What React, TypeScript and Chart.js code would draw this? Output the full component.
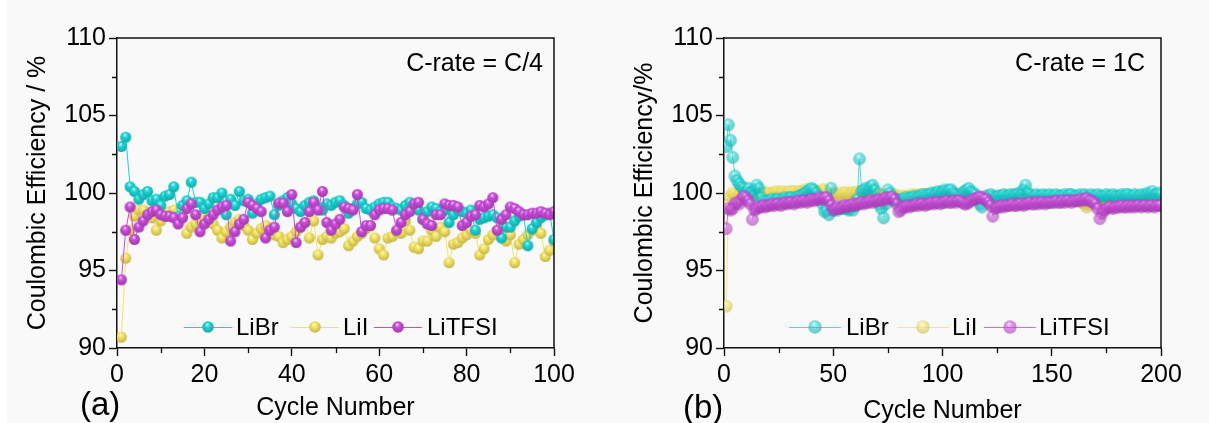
import React, { useEffect, useRef } from "react";
import { Chart, registerables } from "chart.js";

Chart.register(...registerables);

const FONT = "'Liberation Sans', Arial, Helvetica, sans-serif";

const seriesNames = ["LiBr", "LiI", "LiTFSI"];
const seriesColors = ["#19d3d3", "#f4e25e", "#c94ada"];
const drawOrder = [1, 2, 0];

const yMin = 90;
const yMax = 110;
const yMajor = 5;

// ---------- Panel (a): C-rate = C/4, cycles 1..100 ----------
const libr_a = [
  103.0, 103.6, 100.4, 100.1, 99.6, 99.9, 100.1, 99.5, 99.6, 99.2,
  99.8, 99.9, 100.4, 98.5, 99.2, 99.5, 100.7, 99.4, 99.4, 99.0,
  99.3, 99.7, 99.7, 100.0, 98.6, 99.6, 99.2, 100.1, 99.5, 99.6,
  98.7, 99.3, 99.6, 99.7, 99.8, 98.6, 99.2, 99.5, 99.7, 99.3,
  99.0, 98.8, 99.2, 99.4, 99.5, 99.1, 98.9, 99.3, 99.2, 99.4,
  99.5, 99.2, 98.7, 99.0, 99.3, 99.4, 99.0, 98.9, 99.1, 99.3,
  99.4, 99.4, 99.1, 99.0, 98.9, 99.2, 99.4, 99.2, 98.9, 98.3,
  98.8, 99.1, 99.0, 98.8, 98.9, 98.1, 98.6, 98.9, 98.8, 98.7,
  98.9, 97.6, 98.3, 98.4, 98.5, 98.6, 98.4, 97.1, 97.8, 97.8,
  98.2, 98.5, 98.6, 96.6, 97.7, 98.1, 98.4, 98.6, 98.7, 97.0,
];
const lii_a = [
  90.7, 95.8, 97.6, 98.5, 98.9, 98.9, 98.6, 98.4, 97.6, 98.2,
  98.5, 98.8, 98.9, 98.7, 98.5, 97.4, 97.8, 98.0, 98.2, 98.4,
  98.5, 98.0, 97.6, 97.1, 97.5, 97.8, 98.1, 98.3, 97.9, 97.6,
  97.0, 97.4, 97.7, 97.9, 97.6, 97.3, 97.2, 96.8, 97.0, 97.2,
  97.5, 97.8, 98.1, 97.1, 98.2, 96.0, 97.0, 97.2, 97.1, 97.4,
  97.5, 97.7, 96.6, 96.9, 97.2, 97.4, 97.7, 97.9, 97.1, 96.4,
  96.0, 97.1, 97.2, 97.5, 97.4, 98.2, 97.6, 96.5, 96.4, 96.9,
  96.9, 97.6, 97.2, 97.8, 97.5, 95.5, 96.7, 96.8, 97.1, 97.3,
  97.6, 97.4, 96.0, 96.4, 97.0, 97.3, 97.6, 97.8, 96.9, 97.3,
  95.5, 96.7, 97.0, 97.3, 97.6, 97.8, 97.4, 95.9, 96.3, 96.9,
];
const litfsi_a = [
  94.4, 97.6, 99.1, 97.0, 97.8, 98.2, 98.6, 98.8, 98.9, 98.6,
  98.5, 98.5, 98.4, 98.0, 98.4, 99.0, 99.3, 98.6, 97.5, 98.0,
  98.3, 98.6, 98.9, 99.1, 99.2, 96.9, 97.5, 98.0, 98.3, 99.4,
  99.2, 99.0, 98.8, 97.1, 97.6, 97.8, 99.35, 99.35, 98.8, 99.9,
  96.8, 97.8, 98.1, 98.8, 99.4, 98.9, 100.1, 98.1, 97.6, 98.0,
  98.3, 99.1, 99.0, 98.9, 99.9, 97.5, 97.9, 97.9, 98.6, 98.9,
  99.0, 99.0, 98.9, 97.6, 98.1, 98.6, 98.8, 99.3, 99.4, 98.3,
  98.0, 97.9, 98.6, 98.6, 99.3, 99.2, 99.2, 99.1, 97.9, 98.1,
  98.5, 98.6, 99.2, 99.1, 99.3, 99.7, 97.6, 98.3, 98.6, 99.1,
  99.0, 98.8, 98.6, 98.6, 98.7, 98.7, 98.8, 98.7, 98.6, 98.8,
];

// ---------- Panel (b): C-rate = 1C, cycles 1..200 ----------
const libr_b = [
  103.0, 104.4, 103.4, 102.3, 101.1, 100.8, 100.6, 100.4, 100.3, 100.1,
  100.3, 100.0, 99.8, 100.2, 100.5, 100.3, 99.7, 99.5, 99.4, 99.5,
  99.5, 99.6, 99.5, 99.6, 99.6, 99.5, 99.6, 99.7, 99.6, 99.7,
  99.7, 99.6, 99.7, 99.8, 99.8, 99.9, 100.0, 100.1, 100.2, 100.3,
  100.2, 100.0, 99.8, 99.6, 99.3, 98.8, 98.9, 98.6, 100.3, 98.9,
  99.0, 98.9, 99.0, 99.1, 99.0, 99.0, 98.9, 99.1, 98.9, 99.2,
  99.6, 102.2, 100.1, 100.2, 100.3, 100.2, 100.4, 100.5, 100.2, 99.6,
  99.3, 99.0, 98.4, 99.3, 100.2, 100.0, 99.6, 99.5, 99.6, 99.5,
  99.6, 99.6, 99.7, 99.6, 99.7, 99.7, 99.8, 99.7, 99.8, 99.8,
  99.9, 99.8, 99.9, 99.9, 100.0, 99.9, 100.0, 100.1, 100.0, 100.1,
  100.2, 100.1, 100.2, 100.2, 100.0, 99.9, 99.8, 99.8, 100.0, 100.1,
  100.2, 100.3, 100.1, 100.0, 99.9, 99.6, 99.3, 99.1, 99.6, 99.8,
  99.8, 99.9, 99.8, 99.7, 99.8, 99.8, 99.8, 99.9, 99.8, 99.8,
  99.9, 99.8, 99.9, 99.9, 100.0, 99.9, 100.2, 100.5, 100.0, 99.9,
  99.8, 99.8, 99.9, 99.8, 99.8, 99.9, 99.8, 99.8, 99.9, 99.8,
  99.8, 99.9, 99.8, 99.8, 99.8, 99.9, 99.8, 99.9, 99.9, 99.8,
  99.8, 99.8, 99.9, 99.8, 99.9, 99.8, 99.8, 99.9, 99.8, 99.8,
  99.9, 99.8, 99.8, 99.8, 99.9, 99.8, 99.8, 99.9, 99.8, 99.8,
  99.8, 99.9, 99.8, 99.9, 99.9, 99.8, 99.8, 99.9, 99.8, 99.8,
  99.9, 99.8, 99.9, 100.0, 99.9, 100.1, 99.9, 99.9, 100.0, 99.9,
];
const lii_b = [
  92.7, 99.2, 99.8, 100.0, 99.9, 99.8, 99.9, 100.0, 99.9, 99.8,
  99.9, 100.0, 99.9, 100.0, 99.9, 100.0, 100.0, 99.9, 100.0, 100.0,
  99.9, 100.0, 100.0, 100.1, 100.0, 100.0, 100.1, 100.0, 100.0, 100.1,
  100.0, 100.1, 100.0, 100.1, 100.1, 100.1, 100.2, 100.2, 100.1, 100.1,
  100.2, 100.1, 100.1, 100.0, 100.2, 100.2, 100.1, 100.0, 100.0, 99.9,
  99.9, 99.9, 100.0, 99.9, 100.0, 100.0, 99.9, 100.0, 100.0, 100.0,
  100.1, 100.0, 100.1, 100.0, 100.1, 100.1, 100.0, 100.1, 100.0, 100.0,
  99.9, 99.8, 99.7, 99.8, 99.9, 99.8, 99.8, 99.9, 99.8, 99.7,
  99.8, 99.8, 99.7, 99.8, 99.8, 99.9, 99.8, 99.8, 99.9, 99.8,
  99.9, 99.9, 99.8, 99.9, 99.9, 100.0, 99.9, 99.9, 100.0, 99.9,
  100.0, 99.9, 100.0, 99.9, 99.9, 99.8, 99.8, 99.9, 99.8, 99.9,
  99.9, 100.0, 99.9, 99.8, 99.7, 99.6, 99.5, 99.6, 99.7, 99.8,
  99.6, 99.5, 99.4, 99.6, 99.7, 99.7, 99.8, 99.7, 99.8, 99.7,
  99.8, 99.7, 99.8, 99.8, 99.7, 99.8, 99.8, 99.9, 99.8, 99.7,
  99.8, 99.7, 99.8, 99.7, 99.8, 99.7, 99.7, 99.8, 99.7, 99.8,
  99.7, 99.7, 99.8, 99.7, 99.7, 99.6, 99.7, 99.6, 99.6, 99.7,
  99.6, 99.5, 99.5, 99.4, 99.3, 99.1, 99.3, 99.4, 99.5, 99.5,
  99.6, 99.5, 99.6, 99.6, 99.7, 99.6, 99.7, 99.7, 99.6, 99.7,
  99.7, 99.6, 99.7, 99.7, 99.6, 99.7, 99.7, 99.7, 99.6, 99.7,
  99.7, 99.7, 99.6, 99.7, 99.7, 99.7, 99.6, 99.7, 99.7, 99.7,
];
const litfsi_b = [
  97.7, 99.0, 98.9, 99.0, 99.3, 99.4, 99.3, 99.6, 99.8, 99.7,
  99.5, 99.3, 98.3, 98.9, 99.0, 99.1, 99.1, 99.2, 99.1, 99.2,
  99.2, 99.3, 99.2, 99.3, 99.3, 99.2, 99.3, 99.4, 99.3, 99.4,
  99.4, 99.3, 99.4, 99.5, 99.4, 99.5, 99.5, 99.4, 99.5, 99.6,
  99.5, 99.6, 99.6, 99.7, 99.6, 99.7, 99.7, 99.5, 99.2, 98.9,
  99.0, 99.1, 99.0, 99.1, 99.2, 99.1, 99.2, 99.2, 99.3, 99.2,
  99.3, 99.3, 99.4, 99.3, 99.4, 99.4, 99.5, 99.4, 99.5, 99.5,
  99.6, 99.5, 99.6, 99.7, 99.6, 99.7, 99.75, 99.6, 99.3, 98.8,
  98.9, 99.1, 99.1, 99.2, 99.1, 99.2, 99.2, 99.3, 99.2, 99.3,
  99.3, 99.2, 99.3, 99.3, 99.4, 99.3, 99.4, 99.4, 99.3, 99.4,
  99.4, 99.5, 99.4, 99.4, 99.5, 99.4, 99.5, 99.5, 99.4, 99.3,
  99.3, 99.4, 99.5, 99.6, 99.6, 99.7, 99.75, 99.7, 99.6, 99.6,
  99.4, 99.2, 98.5, 99.0, 99.1, 99.1, 99.2, 99.1, 99.2, 99.2,
  99.2, 99.3, 99.2, 99.2, 99.3, 99.3, 99.2, 99.3, 99.3, 99.4,
  99.3, 99.3, 99.4, 99.3, 99.4, 99.4, 99.3, 99.4, 99.4, 99.4,
  99.4, 99.5, 99.4, 99.4, 99.5, 99.4, 99.5, 99.5, 99.4, 99.5,
  99.5, 99.5, 99.6, 99.5, 99.6, 99.65, 99.5, 99.5, 99.4, 99.3,
  99.0, 98.35, 98.7, 98.9, 99.0, 99.1, 99.1, 99.0, 99.1, 99.1,
  99.1, 99.2, 99.1, 99.1, 99.2, 99.1, 99.2, 99.1, 99.2, 99.2,
  99.1, 99.2, 99.2, 99.1, 99.2, 99.2, 99.1, 99.2, 99.2, 99.2,
];

type Panel = {
  key: string;
  left: number;
  width: number;
  series: number[][];
  xMax: number;
  xMajor: number;
  xMinor: number;
  yTitle: string;
  yAxisW: number;
  yTitlePad: number;
  xTitlePadBottom: number;
  padRight: number;
  ballR: number;
  ballAlpha: number;
  lineAlpha: number;
  tag: string;
  tagX: number;
  tagY: number;
  rate: string;
  rateRight: number;
  legendCenters: number[];
  legendTextX: number[];
  legendY: number;
  legendLine: number;
};

const panels: Panel[] = [
  {
    key: "a",
    left: 0,
    width: 604,
    series: [libr_a, lii_a, litfsi_a],
    xMax: 100,
    xMajor: 20,
    xMinor: 10,
    yTitle: "Coulombic Efficiency / %",
    yAxisW: 117,
    yTitlePad: 23,
    xTitlePadBottom: 0,
    padRight: 50,
    ballR: 5.5,
    ballAlpha: 1,
    lineAlpha: 1,
    tag: "(a)",
    tagX: 80,
    tagY: 406,
    rate: "C-rate = C/4",
    rateRight: 543,
    legendCenters: [208, 315, 398],
    legendTextX: [236, 343, 427],
    legendY: 327,
    legendLine: 48,
  },
  {
    key: "b",
    left: 604,
    width: 605,
    series: [libr_b, lii_b, litfsi_b],
    xMax: 200,
    xMajor: 50,
    xMinor: 25,
    yTitle: "Coulombic Efficiency/%",
    yAxisW: 120,
    yTitlePad: 26,
    xTitlePadBottom: -3,
    padRight: 48,
    ballR: 6.4,
    ballAlpha: 0.6,
    lineAlpha: 0.8,
    tag: "(b)",
    tagX: 79,
    tagY: 409,
    rate: "C-rate = 1C",
    rateRight: 541,
    legendCenters: [211, 319, 406],
    legendTextX: [242, 348, 435],
    legendY: 327,
    legendLine: 52,
  },
];

function hexToRgb(hex: string): number[] {
  const h = hex.replace("#", "");
  return [0, 2, 4].map((i) => parseInt(h.slice(i, i + 2), 16));
}

function rgba(c: number[], a: number) {
  return `rgba(${Math.round(c[0])},${Math.round(c[1])},${Math.round(c[2])},${a})`;
}

function drawBall(g: CanvasRenderingContext2D, cx: number, cy: number, r: number, color: string, alpha: number) {
  const c = hexToRgb(color);
  const light = c.map((v) => v + (255 - v) * 0.45);
  const dark = c.map((v) => v * 0.8);
  const grad = g.createRadialGradient(cx - r * 0.15, cy - r * 0.45, 0, cx - r * 0.05, cy - r * 0.15, r * 1.15);
  grad.addColorStop(0, rgba([255, 255, 255], Math.min(1, alpha + 0.25)));
  grad.addColorStop(0.14, rgba(light, alpha));
  grad.addColorStop(0.4, rgba(c, alpha));
  grad.addColorStop(1, rgba(dark, alpha));
  g.fillStyle = grad;
  g.beginPath();
  g.arc(cx, cy, r, 0, Math.PI * 2);
  g.fill();
}

function makeBall(color: string, r: number, alpha: number) {
  const size = Math.ceil(r * 2) + 2;
  const cv = document.createElement("canvas");
  cv.width = size;
  cv.height = size;
  const g = cv.getContext("2d")!;
  drawBall(g, size / 2, size / 2, r, color, alpha);
  return cv;
}

function lineColor(color: string, alpha: number) {
  return rgba(hexToRgb(color), alpha);
}

function decorPlugin(p: Panel) {
  return {
    id: "decor" + p.key,
    afterDraw(chart: any) {
      const { ctx, chartArea: a, scales } = chart;
      const xs = scales.x;
      const ys = scales.y;
      ctx.save();
      // frame: top and right
      ctx.strokeStyle = "#111";
      ctx.lineWidth = 1.5;
      ctx.beginPath();
      ctx.moveTo(a.left - 0.75, a.top);
      ctx.lineTo(a.right, a.top);
      ctx.lineTo(a.right, a.bottom + 0.75);
      ctx.stroke();
      // minor ticks
      ctx.lineWidth = 1.3;
      ctx.beginPath();
      for (let v = p.xMinor; v < p.xMax; v += p.xMajor) {
        const px = Math.round(xs.getPixelForValue(v)) + 0.5;
        ctx.moveTo(px, a.bottom);
        ctx.lineTo(px, a.bottom + 5);
      }
      for (let v = yMin + yMajor / 2; v < yMax; v += yMajor) {
        const py = Math.round(ys.getPixelForValue(v)) + 0.5;
        ctx.moveTo(a.left, py);
        ctx.lineTo(a.left - 5, py);
      }
      ctx.stroke();
      // legend
      for (let i = 0; i < seriesNames.length; i++) {
        const cx = p.legendCenters[i];
        const cy = p.legendY;
        ctx.strokeStyle = lineColor(seriesColors[i], p.lineAlpha);
        ctx.lineWidth = 1;
        ctx.beginPath();
        ctx.moveTo(cx - p.legendLine / 2, cy + 0.5);
        ctx.lineTo(cx + p.legendLine / 2, cy + 0.5);
        ctx.stroke();
        drawBall(ctx, cx, cy, p.ballR + 0.3, seriesColors[i], p.ballAlpha);
        ctx.fillStyle = "#000";
        ctx.font = `24px ${FONT}`;
        ctx.textAlign = "left";
        ctx.textBaseline = "middle";
        ctx.fillText(seriesNames[i], p.legendTextX[i], cy + 1);
      }
      // annotations
      ctx.fillStyle = "#000";
      ctx.font = `25px ${FONT}`;
      ctx.textAlign = "right";
      ctx.textBaseline = "middle";
      ctx.fillText(p.rate, p.rateRight, 64);
      ctx.font = `33px ${FONT}`;
      ctx.textAlign = "left";
      ctx.fillText(p.tag, p.tagX, p.tagY);
      ctx.restore();
    },
  };
}

function buildConfig(p: Panel): any {
  const balls = seriesColors.map((c) => makeBall(c, p.ballR, p.ballAlpha));
  return {
    type: "line",
    data: {
      datasets: p.series.map((vals, i) => ({
        label: seriesNames[i],
        data: vals.map((v, k) => ({ x: k + 1, y: v })),
        borderColor: lineColor(seriesColors[i], p.lineAlpha),
        borderWidth: 1,
        pointStyle: balls[i],
        pointRadius: p.ballR,
        pointHoverRadius: p.ballR,
        order: drawOrder[i],
        fill: false,
        tension: 0,
      })),
    },
    options: {
      animation: false,
      responsive: false,
      maintainAspectRatio: false,
      events: [],
      layout: { padding: { left: 0, right: p.padRight, top: 38, bottom: 0 } },
      plugins: {
        legend: { display: false },
        tooltip: { enabled: false },
      },
      scales: {
        x: {
          type: "linear",
          min: 0,
          max: p.xMax,
          ticks: {
            stepSize: p.xMajor,
            color: "#000",
            font: { family: FONT, size: 25 },
            padding: 4,
            maxRotation: 0,
            autoSkip: false,
          },
          grid: {
            drawOnChartArea: false,
            drawTicks: true,
            tickLength: 8,
            tickColor: "#111",
            tickWidth: 1.4,
          },
          border: { display: true, color: "#111", width: 1.5 },
          title: {
            display: true,
            text: "Cycle Number",
            color: "#000",
            font: { family: FONT, size: 25 },
            padding: { top: 0, bottom: p.xTitlePadBottom },
          },
          afterFit: (s: any) => {
            s.height = 75;
          },
        },
        y: {
          type: "linear",
          min: yMin,
          max: yMax,
          ticks: {
            stepSize: yMajor,
            color: "#000",
            font: { family: FONT, size: 25 },
            padding: 3,
          },
          grid: {
            drawOnChartArea: false,
            drawTicks: true,
            tickLength: 8,
            tickColor: "#111",
            tickWidth: 1.4,
          },
          border: { display: true, color: "#111", width: 1.5 },
          title: {
            display: true,
            text: p.yTitle,
            color: "#000",
            font: { family: FONT, size: 25 },
            padding: { top: p.yTitlePad, bottom: 0 },
          },
          afterFit: (s: any) => {
            s.width = p.yAxisW;
          },
        },
      },
    },
    plugins: [decorPlugin(p)],
  };
}

function PanelChart({ p }: { p: Panel }) {
  const ref = useRef<HTMLCanvasElement>(null);
  useEffect(() => {
    if (!ref.current) return;
    const chart = new Chart(ref.current, buildConfig(p));
    return () => chart.destroy();
  }, [p]);
  return (
    <canvas
      ref={ref}
      width={p.width}
      height={423}
      style={{ position: "absolute", left: p.left, top: 0, width: p.width, height: 423 }}
    />
  );
}

export default function App() {
  return (
    <div
      style={{
        position: "fixed",
        left: 0,
        top: 0,
        width: 1209,
        height: 423,
        background: "#f9f9f9",
        overflow: "hidden",
      }}
    >
      <div style={{ position: "absolute", left: 0, top: 0, width: 7, height: 423, background: "#ffffff" }} />
      {panels.map((p) => (
        <PanelChart key={p.key} p={p} />
      ))}
    </div>
  );
}
